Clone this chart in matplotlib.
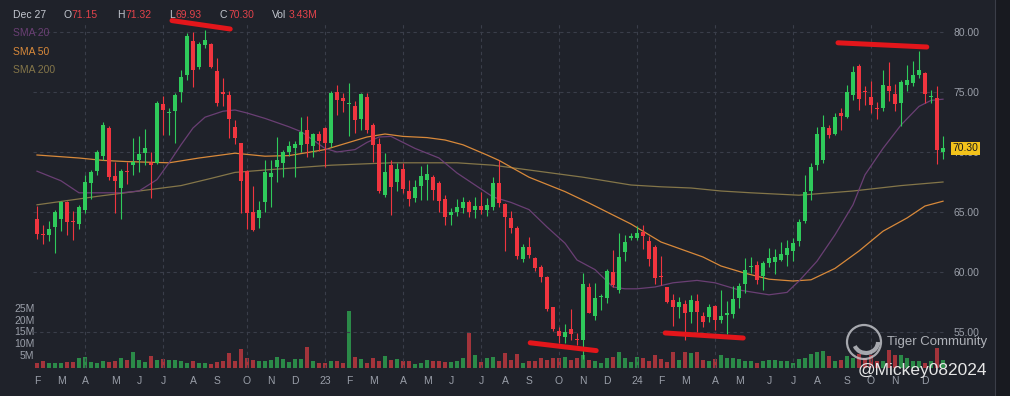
import matplotlib
matplotlib.use("Agg")
import matplotlib.pyplot as plt
import matplotlib.transforms as mtransforms
from matplotlib.patches import Rectangle, Circle, Arc
import pandas as pd

# ---------------- data ----------------
weeks = pd.date_range("2022-01-31", periods=152, freq="W-MON")

opens = [64.42, 63.15, 63.1, 63.75, 64.44, 65.83, 64.25, 64.03, 65.19, 67.42,
         68.44, 69.69, 72.0, 67.97, 67.0, 68.35, 68.9, 69.3, 69.9, 69.08,
         69.08, 74.0, 73.25, 73.44, 75.0, 76.44, 79.22, 77.06, 78.9, 79.0,
         76.78, 75.0, 74.78, 72.08, 70.75, 68.4, 65.0, 64.5, 65.86, 67.94,
         68.78, 69.11, 70.03, 70.33, 70.58, 71.83, 70.5, 71.5, 71.97, 70.78,
         75.03, 74.53, 74.0, 73.83, 72.72, 74.6, 72.25, 70.67, 66.42, 68.92,
         67.53, 68.58, 66.75, 66.19, 67.17, 67.67, 67.94, 67.44, 66.1, 64.75,
         65.0, 65.36, 65.8, 65.2, 65.5, 65.2, 65.44, 67.39, 65.67, 64.47,
         63.64, 61.06, 62.06, 61.14, 60.44, 59.56, 57.06, 55.11, 54.61, 55.22,
         54.4, 54.33, 58.72, 56.33, 57.9, 57.81, 60.03, 58.5, 61.69, 62.8,
         62.8, 63.3, 62.61, 62.06, 59.6, 58.78, 57.67, 57.11, 57.33, 56.7,
         57.61, 56.33, 56.28, 57.17, 56.03, 56.39, 56.5, 57.83, 59.0, 60.4,
         60.56, 59.64, 60.75, 60.83, 61.03, 61.44, 61.78, 62.56, 64.22, 66.72,
         68.94, 69.36, 72.0, 71.5, 73.25, 72.89, 74.78, 77.14, 75.05, 74.56,
         73.65, 73.67, 75.47, 74.83, 74.08, 75.56, 75.75, 76.39, 76.58, 74.6,
         74.5, 70.0]
highs = [65.47, 63.9, 64.28, 65.2, 65.94, 65.9, 65.1, 65.6, 68.1, 68.53,
         70.2, 72.47, 72.19, 69.2, 68.6, 69.2, 71.2, 71.3, 71.9, 69.97,
         74.28, 74.64, 73.7, 74.9, 76.86, 79.9, 80.0, 79.2, 80.2, 79.1,
         77.8, 76.2, 75.1, 72.7, 70.75, 68.5, 67.14, 65.94, 69.33, 69.33,
         71.28, 70.17, 70.94, 70.94, 72.94, 73.0, 71.56, 71.72, 72.06, 75.11,
         75.58, 74.92, 75.78, 74.28, 74.94, 74.94, 72.44, 71.14, 69.94, 69.33,
         69.06, 69.06, 67.67, 67.67, 68.8, 69.0, 68.1, 67.6, 66.4, 65.36,
         66.1, 66.28, 66.0, 66.28, 66.7, 66.2, 67.9, 69.3, 65.72, 65.11,
         63.83, 62.33, 62.89, 61.22, 60.58, 59.67, 57.11, 55.44, 55.67, 56.89,
         54.9, 59.89, 59.1, 59.1, 58.17, 60.22, 61.83, 63.22, 63.08, 63.22,
         63.8, 63.9, 63.0, 62.25, 61.3, 58.78, 58.2, 57.9, 57.67, 58.06,
         58.2, 56.7, 57.33, 57.25, 58.53, 57.56, 58.81, 59.08, 61.17, 61.22,
         60.89, 60.89, 62.0, 61.9, 62.5, 62.67, 62.8, 64.44, 68.11, 69.08,
         72.06, 73.11, 72.28, 73.25, 73.67, 75.61, 77.14, 77.33, 75.47, 75.89,
         74.17, 76.86, 77.5, 75.67, 76.03, 77.22, 77.56, 78.44, 76.67, 75.2,
         75.47, 71.3]
lows = [62.78, 62.3, 62.56, 61.58, 63.39, 63.06, 62.7, 63.58, 64.9, 66.1,
        68.1, 69.36, 67.7, 64.9, 64.44, 67.3, 68.1, 68.3, 68.9, 66.2,
        69.0, 71.44, 71.4, 70.75, 74.2, 76.0, 75.4, 76.9, 78.7, 77.0,
        73.8, 73.8, 71.2, 70.67, 64.9, 63.6, 63.4, 63.7, 65.03, 65.44,
        67.53, 67.94, 69.67, 67.94, 70.03, 69.56, 69.56, 70.08, 68.78, 70.39,
        73.08, 73.36, 71.33, 71.56, 71.8, 71.56, 69.19, 66.56, 66.28, 64.75,
        66.75, 66.56, 65.5, 65.81, 66.0, 66.0, 66.0, 65.0, 63.9, 63.9,
        64.7, 64.9, 64.6, 64.5, 64.8, 64.7, 65.2, 65.44, 61.72, 63.28,
        61.06, 60.86, 61.14, 60.11, 59.19, 56.78, 55.11, 54.06, 54.06, 54.33,
        53.9, 52.75, 56.56, 56.0, 56.83, 57.39, 58.78, 58.28, 60.94, 62.7,
        62.7, 61.94, 60.5, 59.0, 58.9, 57.39, 55.5, 56.14, 54.33, 55.72,
        55.0, 55.44, 55.86, 55.17, 55.75, 54.83, 56.17, 57.0, 58.25, 59.92,
        59.0, 58.53, 60.39, 59.8, 60.9, 60.5, 60.9, 62.14, 64.08, 66.03,
        68.53, 69.08, 71.17, 71.44, 71.86, 72.83, 74.36, 73.53, 73.94, 73.25,
        72.78, 73.39, 74.28, 73.39, 72.14, 75.11, 75.47, 76.17, 74.08, 74.08,
        69.0, 69.44]
closes = [63.2, 63.05, 63.58, 65.0, 65.83, 64.14, 64.2, 65.39, 67.5, 68.31,
          70.0, 72.28, 67.92, 67.6, 68.44, 68.3, 69.2, 69.8, 70.33, 68.9,
          74.08, 73.53, 73.35, 74.78, 76.22, 79.64, 76.86, 79.0, 79.3, 77.06,
          74.08, 74.8, 72.78, 71.17, 67.6, 64.9, 63.53, 65.19, 68.36, 68.22,
          69.33, 70.03, 70.5, 70.67, 71.69, 70.67, 71.47, 70.92, 70.78, 74.89,
          74.33, 74.28, 74.1, 72.67, 74.83, 71.83, 70.58, 66.78, 68.33, 67.11,
          68.61, 66.89, 66.08, 67.06, 68.0, 68.17, 66.83, 65.94, 64.56, 65.0,
          65.44, 65.86, 65.03, 65.5, 65.2, 65.6, 67.39, 65.72, 64.56, 63.64,
          61.33, 62.06, 61.42, 60.31, 59.56, 56.89, 55.22, 54.67, 55.0, 54.83,
          54.35, 59.0, 56.61, 57.81, 58.0, 60.11, 58.92, 61.28, 62.53, 63.0,
          63.25, 63.0, 61.06, 59.47, 59.55, 57.53, 57.06, 57.47, 56.61, 57.67,
          56.7, 55.86, 57.11, 56.0, 56.31, 56.58, 57.78, 58.81, 60.19, 60.5,
          59.36, 60.75, 61.17, 61.22, 61.5, 62.0, 62.42, 64.17, 66.67, 68.72,
          71.5, 72.06, 71.44, 72.89, 72.97, 75.0, 76.67, 74.44, 75.0, 73.94,
          73.6, 75.56, 75.06, 74.0, 75.83, 76.03, 76.44, 76.86, 74.83, 74.7,
          70.19, 70.30]
volumes_m = [2.0, 2.9, 1.8, 1.8, 1.8, 2.5, 2.5, 3.9, 4.6, 2.2,
             2.1, 2.9, 2.3, 2.9, 3.9, 3.2, 6.6, 3.2, 2.3, 4.9,
             3.2, 3.6, 3.2, 3.2, 2.9, 2.1, 2.9, 2.1, 1.8, 1.5,
             2.5, 2.9, 6.3, 2.9, 7.9, 4.2, 3.2, 2.9, 2.6, 3.0,
             4.6, 3.5, 2.5, 3.6, 3.6, 8.9, 2.9, 1.8, 2.0, 2.9,
             2.9, 1.8, 24.0, 4.6, 3.6, 1.8, 3.9, 2.9, 4.9, 3.2,
             3.6, 2.9, 2.6, 1.5, 2.1, 3.2, 2.9, 2.6, 2.3, 2.3,
             2.9, 3.9, 14.8, 5.3, 2.3, 4.0, 4.3, 2.6, 6.3, 3.2,
             5.7, 2.1, 2.6, 2.9, 3.9, 3.2, 4.0, 4.0, 4.6, 3.2,
             4.0, 5.3, 3.2, 2.6, 2.1, 3.9, 4.6, 6.6, 3.9, 2.5,
             4.6, 4.2, 2.9, 5.3, 3.8, 2.5, 6.7, 3.2, 6.5, 6.0,
             6.7, 3.2, 2.8, 3.6, 5.3, 4.2, 4.2, 3.5, 2.9, 2.8,
             2.1, 2.9, 3.2, 3.2, 2.9, 2.9, 1.8, 3.6, 4.2, 5.6,
             6.6, 7.2, 4.9, 2.9, 3.2, 4.9, 3.9, 5.6, 3.9, 5.3,
             2.8, 2.9, 7.4, 5.3, 5.3, 3.9, 2.9, 2.9, 2.1, 2.9,
             8.2, 3.4]

# moving averages at selected weeks (week index -> value)
sma20_idx = [0, 4, 7, 14, 17, 20, 22, 24, 26, 28, 31, 33, 35, 38, 42, 44, 46, 48, 50, 53,
             55, 57, 59, 61, 63, 67, 70, 73, 76, 79, 82, 85, 88, 90, 93, 96, 98, 100, 103, 106,
             110, 113, 117, 122, 125, 127, 130, 133, 136, 138, 141, 144, 147, 149, 151]
sma20_val = [68.4, 67.6, 66.6, 66.6, 66.75, 67.7, 69.1, 70.6, 72.0, 72.9, 73.4, 73.5, 73.25, 72.8,
             72.1, 71.7, 71.0, 70.3, 70.0, 70.2, 70.8, 71.25, 71.3, 70.8, 70.3, 69.5, 68.25, 67.25,
             66.25, 65.8, 65.2, 63.75, 62.4, 61.0, 60.2, 58.75, 58.6, 58.6, 58.75, 59.1, 59.3, 59.1,
             58.5, 58.1, 58.3, 59.25, 60.9, 63.1, 65.6, 68.1, 70.3, 72.25, 73.8, 74.3, 74.4]
sma50_idx = [0, 7, 11, 15, 22, 27, 33, 38, 42, 48, 52, 55, 58, 61, 65, 68, 71, 75, 77, 82,
             88, 92, 99, 104, 111, 114, 118, 122, 126, 129, 133, 137, 141, 145, 148, 151]
sma50_val = [69.75, 69.5, 69.3, 69.2, 69.1, 69.5, 69.9, 69.65, 69.7, 70.2, 70.8, 71.25, 71.5,
             71.3, 71.2, 71.0, 70.6, 69.75, 69.3, 67.9, 66.7, 65.75, 64.0, 62.5, 61.25, 60.5,
             59.9, 59.4, 59.25, 59.35, 60.3, 61.75, 63.4, 64.5, 65.5, 65.9]
sma200_idx = [0, 10, 17, 24, 29, 33, 38, 49, 59, 70, 76, 82, 91, 99, 104, 109, 114, 119,
              127, 136, 144, 151]
sma200_val = [65.6, 66.3, 66.75, 67.2, 67.8, 68.3, 68.5, 68.9, 69.1, 69.1, 68.9, 68.5, 67.9,
              67.25, 67.1, 67.0, 66.75, 66.6, 66.4, 66.75, 67.2, 67.5]

price_ticks = [55, 60, 65, 70, 75, 80]
vol_ticks = [5, 10, 15, 20, 25]
header_date = "Dec 27"
header_fields = [("O", "71.15"), ("H", "71.32"), ("L", "69.93"), ("C", "70.30"), ("Vol", "3.43M")]
last_price = 70.30

# hand-drawn red markup strokes (week index, price)
markup_lines = [((22.5, 80.95), (32.2, 80.25)),
                ((133.5, 79.1), (148.3, 78.75)),
                ((82.2, 54.1), (93.2, 53.45)),
                ((104.7, 54.92), (117.7, 54.5))]

# ---------------- style ----------------
BG = "#1f222a"
GRID = "#3a3e4a"
TXT = "#9a9fa9"
UP = "#2fca5b"
DN = "#f0353f"
VUP = "#2b8a48"
VDN = "#a3343b"
C20, C50, C200 = "#6a3f74", "#d8893a", "#847649"
FONT = "Liberation Sans"
plt.rcParams["font.family"] = [FONT, "DejaVu Sans"]

W, H = 1010, 396
fig = plt.figure(figsize=(W / 100, H / 100), dpi=100, facecolor=BG)


def fx(px):
    return px / W


def fy(py):
    return 1 - py / H


L, R = 33, 946
XL = ((L - 37) / 6, (R - 37) / 6)

axv = fig.add_axes([fx(L), fy(367.5), (R - L) / W, (367.5 - 300) / H])
ax = fig.add_axes([fx(L), fy(368), (R - L) / W, (368 - 22) / H])
for a in (axv, ax):
    a.set_facecolor("none")
    for s in a.spines.values():
        s.set_visible(False)
    a.set_xlim(*XL)
    a.set_xticks([])
ax.set_ylim(80 - (368 - 32) / 12, 80 + 10 / 12)
axv.set_ylim(0, 67.5 / 2.35)
axv.set_yticks([])

n = len(closes)
xs = list(range(n))
up = [c >= o for o, c in zip(opens, closes)]

# volume
axv.bar(xs, volumes_m, width=0.82, color=[VUP if u else VDN for u in up], linewidth=0, zorder=2)

# grid
for p in price_ticks:
    ax.axhline(p, color=GRID, lw=0.8, ls=(0, (3, 3)), zorder=0)

# months
month_pos, month_lab, quarter_pos = [], [], []
for m in pd.date_range("2022-02-01", "2024-12-01", freq="MS"):
    idx = next(i for i, w in enumerate(weeks) if w + pd.Timedelta(days=4) >= m)
    month_pos.append(idx)
    month_lab.append(f"{m.year % 100:02d}" if m.month == 1 else "JFMAMJJASOND"[m.month - 1])
    if m.month in (1, 4, 7, 10):
        quarter_pos.append(idx)
for q in quarter_pos:
    ax.axvline(q, color=GRID, lw=0.8, ls=(0, (3, 3)), zorder=0)
btr = mtransforms.blended_transform_factory(ax.transData, fig.transFigure)
for p, lab in zip(month_pos, month_lab):
    ax.text(p, fy(381), lab, transform=btr, ha="center", va="center",
            color=TXT, fontsize=7.5, clip_on=False)

# moving averages
ax.plot(sma200_idx, sma200_val, color=C200, lw=0.9, zorder=1)
ax.plot(sma50_idx, sma50_val, color=C50, lw=0.9, zorder=1)
ax.plot(sma20_idx, sma20_val, color=C20, lw=0.9, zorder=1)

# candles
cols = [UP if u else DN for u in up]
ax.vlines(xs, lows, highs, colors=cols, lw=0.8, zorder=3)
bottoms = [min(o, c) for o, c in zip(opens, closes)]
heights = [max(abs(c - o), 0.09) for o, c in zip(opens, closes)]
ax.bar(xs, heights, bottom=bottoms, width=0.68, color=cols, linewidth=0, zorder=4)

# price axis labels (right)
ax.yaxis.tick_right()
ax.set_yticks(price_ticks)
ax.set_yticklabels([f"{p:.2f}" for p in price_ticks])
ax.tick_params(axis="y", length=0, pad=5.2, labelcolor=TXT, labelsize=7.5)

# last price tag
ytr = mtransforms.blended_transform_factory(ax.transAxes, ax.transData)
ax.text(1 + 6.5 / (R - L), last_price, f"{last_price:.2f}", transform=ytr, ha="left",
        va="center", fontsize=7.5, color="#1c1c1c", clip_on=False, zorder=20,
        bbox=dict(boxstyle="square,pad=0.12", fc="#f2c21b", ec="none"))

# volume axis labels (left)
vtr = mtransforms.blended_transform_factory(fig.transFigure, axv.transData)
for v in vol_ticks:
    axv.text(fx(34.5), v, f"{v}M", transform=vtr, ha="right", va="center",
             color=TXT, fontsize=7.5, clip_on=False)

# header
fig.text(fx(13), fy(15), header_date, color="#c3c7cf", fontsize=7.5, va="center")
hx = [63, 117, 169, 220, 272]
for (k, v), x0 in zip(header_fields, hx):
    t = fig.text(fx(x0), fy(15), k, color="#c3c7cf", fontsize=7.5, va="center")
    kw = {"O": 8.5, "H": 8, "L": 6.5, "C": 8.5, "Vol": 17}[k]
    fig.text(fx(x0 + kw), fy(15), v, color="#e2434b", fontsize=7.5, va="center")

# legend
for lab, col, yy in [("SMA 20", C20, 33), ("SMA 50", C50, 52), ("SMA 200", C200, 70)]:
    fig.text(fx(13), fy(yy), lab, color=col, fontsize=7.5, va="center")

# markup strokes
for (x0, y0), (x1, y1) in markup_lines:
    ax.plot([x0, x1], [y0, y1], color="#e3161b", lw=3.6, solid_capstyle="round",
            clip_on=False, zorder=15)

# right border
fig.add_artist(Rectangle((fx(995), 0), 1 - fx(995), 1, transform=fig.transFigure,
                         fc="#181a20", ec="none", zorder=0))
fig.add_artist(plt.Line2D([fx(995), fx(995)], [0, 1], transform=fig.transFigure,
                          color="#3b3e48", lw=0.8))

# watermark
idt = mtransforms.IdentityTransform()
fig.add_artist(Circle((864, H - 342), 17, transform=idt, fc="none", ec="#c9cbd0",
                      lw=1.6, alpha=0.8, zorder=30))
fig.add_artist(Arc((866, H - 342), 24, 22, theta1=200, theta2=360, transform=idt,
                   ec="#c9cbd0", lw=3.0, alpha=0.8, zorder=30))
fig.text(fx(887), fy(342), "Tiger Community", color="#bfc2c8", fontsize=9.5,
         va="center", alpha=0.9, zorder=30)
fig.text(fx(858), fy(371), "@Mickey082024", color="#e6e6e6", fontsize=12.5,
         va="center", zorder=30)

fig.savefig("out.png", dpi=100, facecolor=BG)
